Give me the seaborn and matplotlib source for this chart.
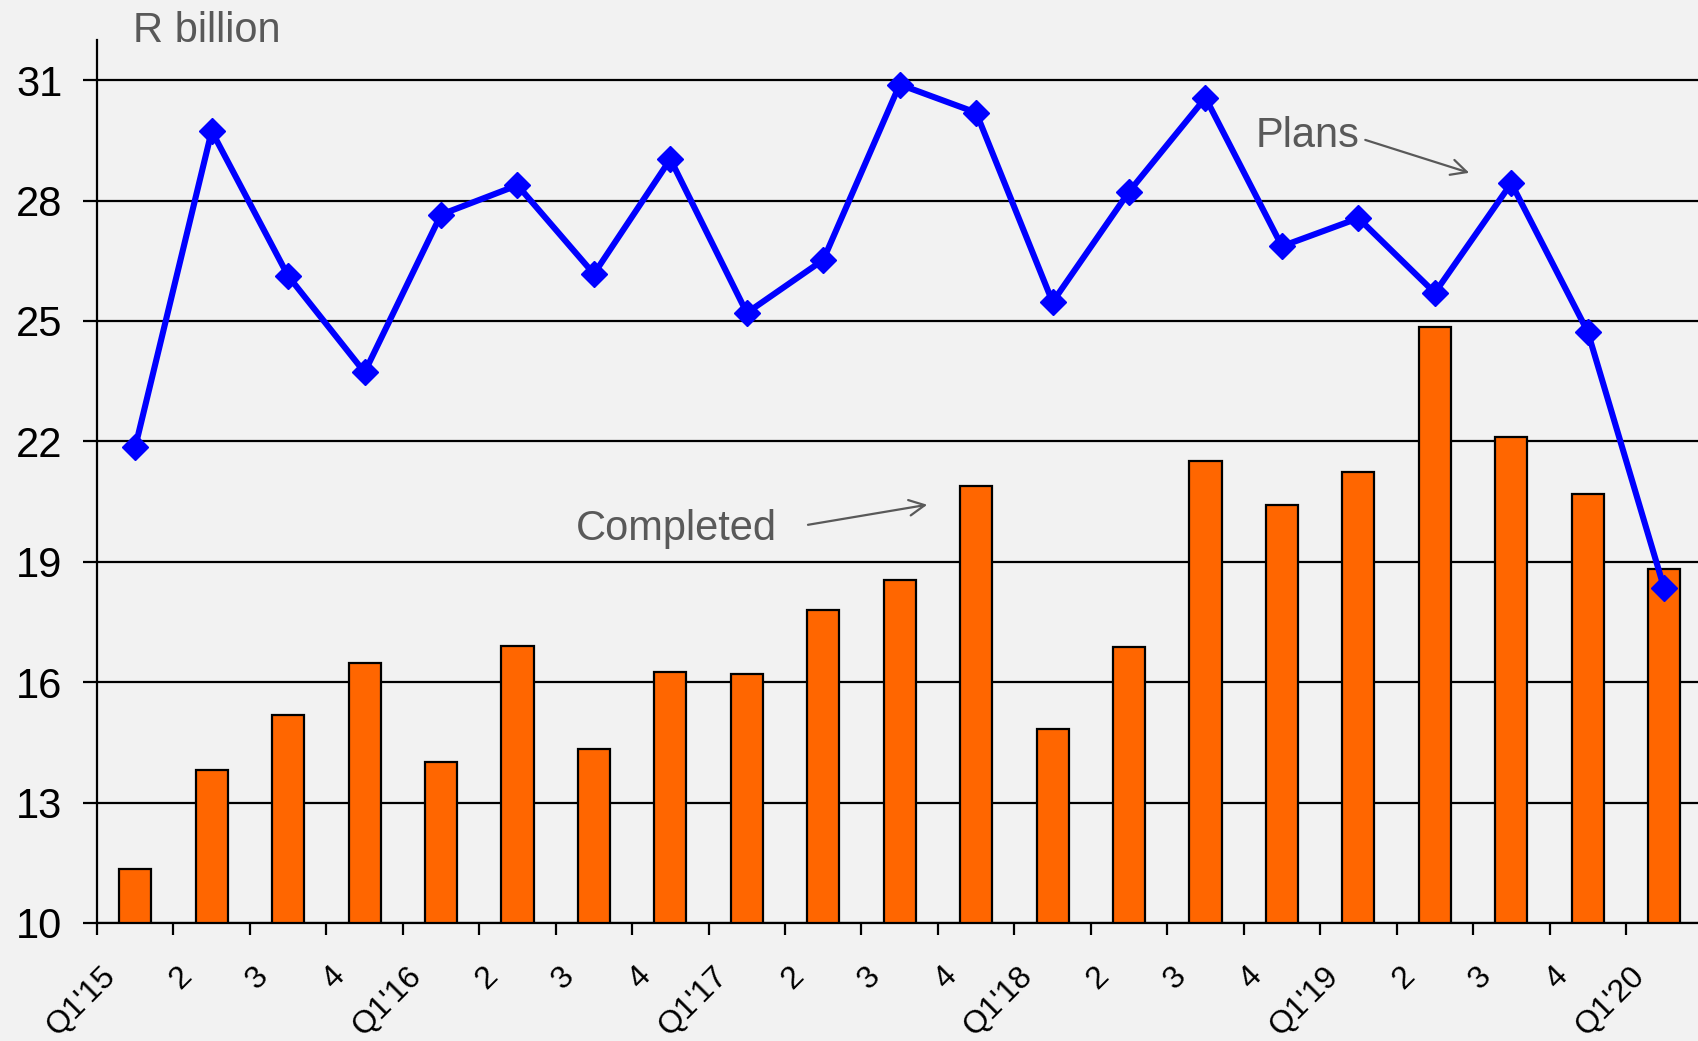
import matplotlib
matplotlib.use("Agg")
import matplotlib.pyplot as plt
import matplotlib.transforms as mtransforms
import seaborn as sns
import numpy as np
import pandas as pd

# data (R billion per quarter)
quarters = ["Q1'15", "Q2'15", "Q3'15", "Q4'15",
            "Q1'16", "Q2'16", "Q3'16", "Q4'16",
            "Q1'17", "Q2'17", "Q3'17", "Q4'17",
            "Q1'18", "Q2'18", "Q3'18", "Q4'18",
            "Q1'19", "Q2'19", "Q3'19", "Q4'19",
            "Q1'20"]
tick_labels = ["Q1'15", "2", "3", "4",
               "Q1'16", "2", "3", "4",
               "Q1'17", "2", "3", "4",
               "Q1'18", "2", "3", "4",
               "Q1'19", "2", "3", "4",
               "Q1'20"]
completed = [11.35, 13.80, 15.18, 16.47, 14.02, 16.90, 14.34, 16.25,
             16.20, 17.79, 18.54, 20.89, 14.82, 16.88, 21.50, 20.42,
             21.24, 24.85, 22.10, 20.68, 18.83]
plans = [21.86, 29.73, 26.12, 23.72, 27.65, 28.38, 26.17, 29.03,
         25.20, 26.52, 30.89, 30.19, 25.47, 28.22, 30.56, 26.86,
         27.56, 25.70, 28.43, 24.73, 18.34]
y_ticks = [10, 13, 16, 19, 22, 25, 28, 31]

df = pd.DataFrame({"quarter": quarters, "completed": completed, "plans": plans})
df["pos"] = np.arange(len(df))

bg = "#f2f2f2"
grey = "#595959"
plt.rcParams["font.family"] = ["Liberation Sans", "DejaVu Sans"]

fig = plt.figure(figsize=(16.99, 10.41), dpi=100, facecolor=bg)
ax = fig.add_axes([0.0571, 0.1134, 0.9449, 0.8482])
ax.set_facecolor(bg)

# bars for completed projects
sns.barplot(data=df, x="quarter", y="completed", ax=ax, color="#ff6600",
            saturation=1, edgecolor="black", linewidth=1.6, width=0.42,
            zorder=2)

# line for plans
sns.lineplot(data=df, x="pos", y="plans", ax=ax, color="#0000ff", lw=4.4,
             marker="D", markersize=13.5, markeredgecolor="#0000ff",
             markeredgewidth=1, sort=False, zorder=3)

ax.set_xlim(-0.5, len(df) - 0.5)
ax.set_ylim(10, 32)
ax.set_yticks(y_ticks)
ax.set_xticks(np.arange(len(df)) - 0.5)
ax.set_xticklabels(tick_labels, rotation=45, ha="right", va="center",
                   rotation_mode="anchor")
ax.set_xlabel("")
ax.set_ylabel("")

ax.tick_params(axis="y", labelsize=30, length=10, width=1.6, pad=15,
               colors="black")
ax.tick_params(axis="x", labelsize=23, length=8.6, width=1.6, pad=26.5,
               direction="out", colors="black")
for lab in ax.get_xticklabels():
    lab.set_transform(lab.get_transform() +
                      mtransforms.ScaledTranslation(0.14, 0, fig.dpi_scale_trans))

ax.yaxis.grid(True, color="black", lw=1.6)
ax.xaxis.grid(False)
ax.set_axisbelow(True)
for side in ["top", "right"]:
    ax.spines[side].set_visible(False)
ax.spines["left"].set_linewidth(1.6)
ax.spines["bottom"].set_linewidth(1.6)
ax.spines["left"].set_color("black")
ax.spines["bottom"].set_color("black")

# labels and arrows
fig.text(133 / 1699, 1 - 41.7 / 1041, "R billion", fontsize=30, color=grey,
         va="baseline", ha="left")
ax.text(14.66, 29.34, "Plans", fontsize=30, color=grey, va="baseline", ha="left")
ax.annotate("", xy=(17.45, 28.69), xytext=(16.09, 29.51),
            arrowprops=dict(arrowstyle="->", color=grey, lw=1.6,
                            mutation_scale=28, shrinkA=0, shrinkB=0))
ax.text(5.77, 19.53, "Completed", fontsize=30, color=grey, va="baseline", ha="left")
ax.annotate("", xy=(10.36, 20.42), xytext=(8.80, 19.92),
            arrowprops=dict(arrowstyle="->", color=grey, lw=1.6,
                            mutation_scale=28, shrinkA=0, shrinkB=0))

fig.savefig("out.png", dpi=100, facecolor=bg)
